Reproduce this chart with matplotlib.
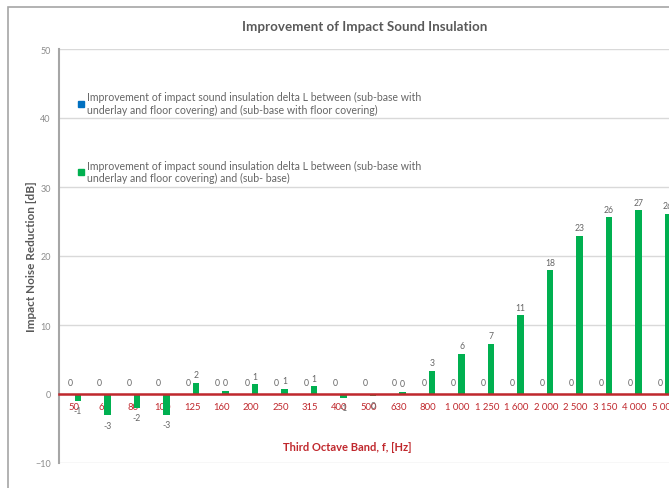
import matplotlib
matplotlib.use("Agg")
import matplotlib.pyplot as plt
from matplotlib.patches import Rectangle, Patch
import numpy as np

plt.rcParams['font.family'] = ['Lato', 'DejaVu Sans']

categories = ["50", "63", "80", "100", "125", "160", "200", "250", "315", "400",
              "500", "630", "800", "1 000", "1 250", "1 600", "2 000", "2 500",
              "3 150", "4 000", "5 000"]
blue_values = [0] * 21
green_values = [-1.0, -3.1, -2.0, -3.0, 1.6, 0.5, 1.4, 0.7, 1.1, -0.6,
                -0.3, 0.3, 3.3, 5.8, 7.2, 11.4, 17.9, 22.9, 25.6, 26.6, 26.1]
blue_label = ("Improvement of impact sound insulation delta L between (sub-base with\n"
              "underlay and floor covering) and (sub-base with floor covering)")
green_label = ("Improvement of impact sound insulation delta L between (sub-base with\n"
               "underlay and floor covering) and (sub- base)")

W, H = 669, 489
fig = plt.figure(figsize=(W / 100, H / 100), dpi=100)
fig.patch.set_facecolor("white")

# outer chart frame
fig.patches.append(Rectangle((7.5 / W, -0.1), 1.2, 1 - 8 / H + 0.1,
                             transform=fig.transFigure, fill=False,
                             edgecolor="#A6A6A6", linewidth=1.2))

left, right, bottom, top = 59.25 / W, 678.75 / W, 1 - 464 / H, 1 - 50 / H
ax = fig.add_axes([left, bottom, right - left, top - bottom])

x = np.arange(len(categories))
off = 0.136
bw = 0.22
ax.bar(x - off, blue_values, width=bw, color="#0070C0", zorder=3)
ax.bar(x + off, green_values, width=bw, color="#00B050", zorder=3)

ax.set_xlim(-0.5, len(categories) - 0.5)
ax.set_ylim(-10, 50)
ax.set_yticks(range(-10, 51, 10))
ax.yaxis.grid(True, color="#D9D9D9", linewidth=1.0, zorder=0)
ax.set_axisbelow(True)

for s in ["top", "right"]:
    ax.spines[s].set_visible(False)
ax.spines["left"].set_color("#A6A6A6")
ax.spines["left"].set_linewidth(1.5)
ax.spines["bottom"].set_position(("data", 0))
ax.spines["bottom"].set_color("#C0282D")
ax.spines["bottom"].set_linewidth(1.8)
ax.spines["bottom"].set_zorder(4)

ax.set_xticks(x)
ax.set_xticklabels(categories)
ax.tick_params(axis="x", length=0, pad=6, labelsize=6.8, labelcolor="#C0282D")
ax.tick_params(axis="y", length=0, pad=6, labelsize=6.5, labelcolor="#8C8C8C")

ax.set_ylabel("Impact Noise Reduction [dB]", fontsize=8.5, fontweight="bold",
              color="#595959", labelpad=-1)

def fmt(v):
    r = int(round(v))
    return "0" if r == 0 else str(r)

for i, v in enumerate(blue_values):
    ax.annotate(fmt(v), (x[i] - off, v), xytext=(0, 8), textcoords="offset points",
                ha="center", va="center", fontsize=6.2, color="#666666", zorder=5)
for i, v in enumerate(green_values):
    dy = 6 if v >= 0 else -7
    ax.annotate(fmt(v), (x[i] + off, v), xytext=(0, dy), textcoords="offset points",
                ha="center", va="center", fontsize=6.2, color="#666666", zorder=5)

handles = [Patch(color="#0070C0"), Patch(color="#00B050")]
fig.legend(handles, [blue_label, green_label], loc="upper left",
           bbox_to_anchor=(74 / W, 1 - 88 / H), frameon=False, fontsize=7.6,
           labelcolor="#666666", handlelength=0.5, handleheight=0.5,
           handletextpad=0.3, labelspacing=4.2, borderaxespad=0)

fig.text(365 / W, 1 - 27 / H, "Improvement of Impact Sound Insulation",
         ha="center", va="center", fontsize=9.6, fontweight="bold", color="#595959")
fig.text(347 / W, 1 - 448 / H, "Third Octave Band, f, [Hz]", ha="center",
         va="center", fontsize=8, fontweight="bold", color="#C0282D")

fig.savefig("out.png", dpi=100)
